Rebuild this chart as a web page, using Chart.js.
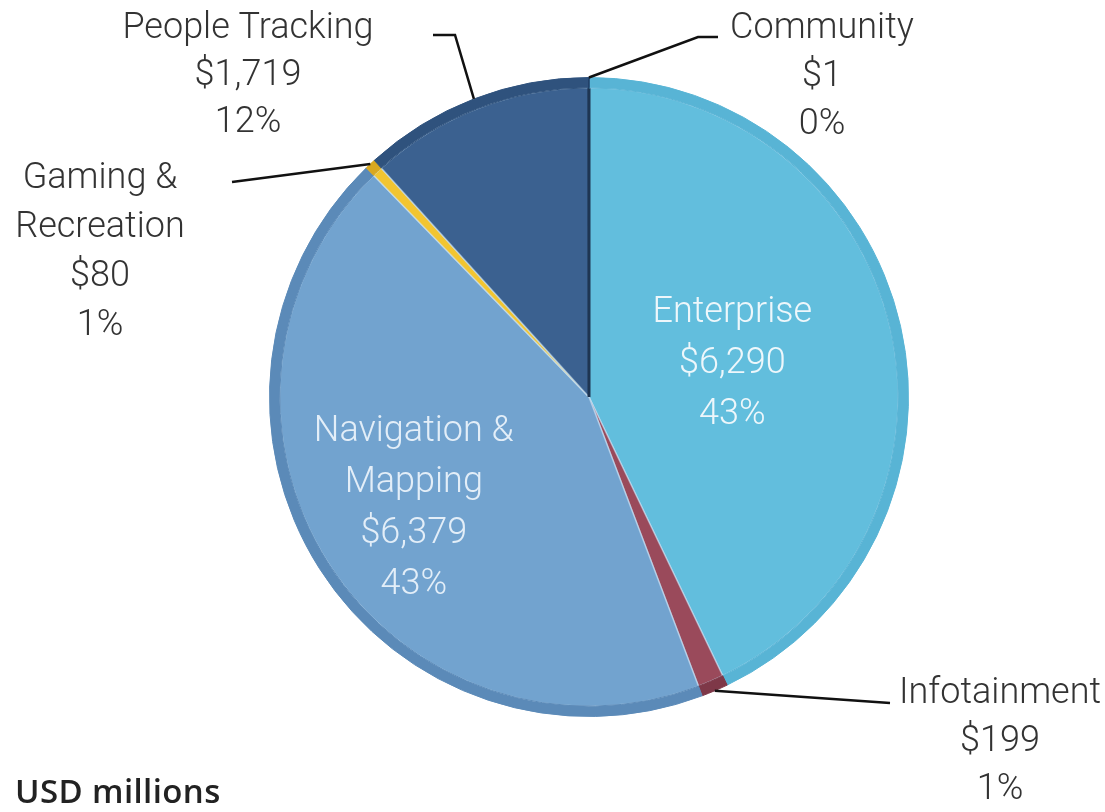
<!DOCTYPE html>
<html>
<head>
<meta charset="utf-8">
<script src="https://cdn.jsdelivr.net/npm/chart.js@4.4.1/dist/chart.umd.min.js"></script>
<style>
  html, body { margin: 0; padding: 0; background: #fff; }
  #wrap { width: 1105px; height: 812px; position: relative; }
  #unit { position: absolute; left: 15px; top: 768px; font: 600 33px "Open Sans", sans-serif; color: #222; letter-spacing: 0.4px; }
</style>
</head>
<body>
<div id="wrap">
  <canvas id="pieChart" width="1105" height="812"></canvas>
  <div id="unit">USD millions</div>
</div>
<script>
const categories = ["Enterprise", "Infotainment", "Navigation & Mapping", "Gaming & Recreation", "People Tracking", "Community"];
const values = [6290, 199, 6379, 80, 1719, 1];
const valueLabels = ["$6,290", "$199", "$6,379", "$80", "$1,719", "$1"];
const pctLabels = ["43%", "1%", "43%", "1%", "12%", "0%"];
const nameLines = [["Enterprise"], ["Infotainment"], ["Navigation &", "Mapping"], ["Gaming &", "Recreation"], ["People Tracking"], ["Community"]];

const fillColors = ["#62BEDD", "#9A4A5B", "#72A3CF", "#F2C531", "#3B6190", "#2A4C78"];
const rimColors = ["#58B4D5", "#7E3848", "#5B8AB8", "#D9A820", "#2F527D", "#203E66"];
const edgeColors = ["rgba(200,225,245,0.6)", "rgba(200,225,245,0.6)", "rgba(200,225,245,0.6)", "rgba(200,225,245,0.6)", "rgba(200,225,245,0.6)", "#1E3552"];

// where each label sits: inside ones by radius fraction, outside ones by anchor + leader bend
const labelLayout = [
  { inside: true, frac: 0.46, color: "#EEF7FB", lineH: 51 },
  { x: 1000, y: 694, color: "#333", lineH: 48, bend: [890, 703] },
  { inside: true, frac: 0.65, color: "#E3EEF8", lineH: 51 },
  { x: 100, y: 179, color: "#333", lineH: 49, bend: [232, 182] },
  { x: 248, y: 29, color: "#333", lineH: 47, bend: [455, 35], end: [433, 35] },
  { x: 822, y: 29, color: "#333", lineH: 48, bend: [698, 37], end: [718, 37] }
];

const labelPlugin = {
  id: "sliceLabels",
  afterDraw(chart) {
    const ctx = chart.ctx;
    const arcs = chart.getDatasetMeta(0).data;
    ctx.save();
    ctx.textAlign = "center";
    ctx.textBaseline = "middle";
    ctx.font = "300 36px Roboto, 'Liberation Sans', sans-serif";
    arcs.forEach((arc, i) => {
      const lay = labelLayout[i];
      const mid = (arc.startAngle + arc.endAngle) / 2;
      const lines = nameLines[i].concat([valueLabels[i], pctLabels[i]]);
      let x, y;
      if (lay.inside) {
        const r = arc.outerRadius * lay.frac;
        x = arc.x + Math.cos(mid) * r;
        y = arc.y + Math.sin(mid) * r - (lines.length - 1) * lay.lineH / 2;
      } else {
        x = lay.x;
        y = lay.y;
        ctx.beginPath();
        ctx.strokeStyle = "#111";
        ctx.lineWidth = 2.5;
        ctx.moveTo(arc.x + Math.cos(mid) * arc.outerRadius, arc.y + Math.sin(mid) * arc.outerRadius);
        ctx.lineTo(lay.bend[0], lay.bend[1]);
        if (lay.end) ctx.lineTo(lay.end[0], lay.end[1]);
        ctx.stroke();
      }
      ctx.fillStyle = lay.color;
      lines.forEach((t, k) => ctx.fillText(t, x, y + k * lay.lineH));
    });
    ctx.restore();
  }
};

new Chart(document.getElementById("pieChart"), {
  type: "pie",
  data: {
    labels: categories,
    datasets: [
      { data: values, backgroundColor: rimColors, borderColor: rimColors, borderWidth: 1, weight: 1 },
      { data: values, backgroundColor: fillColors, borderColor: edgeColors, borderWidth: [1.5, 1.5, 1.5, 1.5, 1.5, 3], weight: 30 }
    ]
  },
  options: {
    responsive: false,
    animation: false,
    layout: { padding: { left: 269, right: 196, top: 77, bottom: 95 } },
    plugins: {
      legend: { display: false },
      tooltip: { enabled: false }
    },
    events: []
  },
  plugins: [labelPlugin]
});
</script>
</body>
</html>
